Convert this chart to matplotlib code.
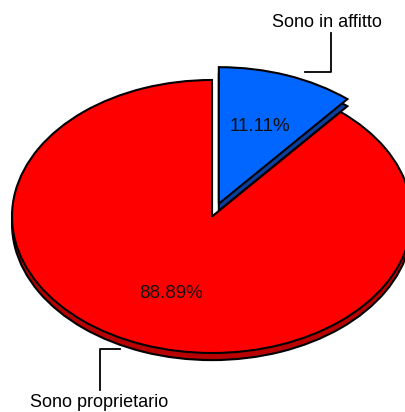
import numpy as np
import matplotlib.pyplot as plt

plt.rcParams['font.family'] = ['Liberation Sans', 'DejaVu Sans']

labels = ['Sono in affitto', 'Sono proprietario']
values = [11.11, 88.89]
colors = ['#0066ff', '#ff0000']
side_colors = ['#0a3f9e', '#b80000']
explode = [0.1, 0.0]

depth = 0.052  # thickness of the 3d rim, in pie units
fs = 13

fig = plt.figure(figsize=(4.06, 4.12), dpi=100)
# axes box = bounding box of the (flattened) pie ellipse
ax = fig.add_axes([12 / 406, 59 / 412, 400 / 406, 273 / 412])

# rim first (shifted down), then the top face
rim, _ = ax.pie(values, colors=side_colors, startangle=90, counterclock=False,
                explode=explode, center=(0, -depth),
                wedgeprops=dict(edgecolor='black', linewidth=1.5))
top, _, pcts = ax.pie(values, colors=colors, startangle=90, counterclock=False,
                      explode=explode, autopct='%.2f%%', pctdistance=0.6,
                      textprops=dict(fontsize=13.5, color='#111111',
                                     family=['Liberation Sans', 'DejaVu Sans']),
                      wedgeprops=dict(edgecolor='black', linewidth=1.5))
for w in rim + top:
    w.set_clip_on(False)

ax.set_aspect('auto')
ax.set_xlim(-1, 1)
ax.set_ylim(-1, 1)
ax.axis('off')

# leader lines and labels
ax.plot([0.465, 0.595, 0.595], [1.059, 1.059, 1.344], color='black', lw=1.3, clip_on=False)
ax.text(0.575, 1.385, labels[0], ha='center', va='baseline', fontsize=fs)
ax.plot([-0.46, -0.56, -0.56], [-0.971, -0.971, -1.271], color='black', lw=1.3, clip_on=False)
ax.text(-0.562, -1.396, labels[1], ha='center', va='baseline', fontsize=fs)

fig.savefig('out.png', dpi=100)
